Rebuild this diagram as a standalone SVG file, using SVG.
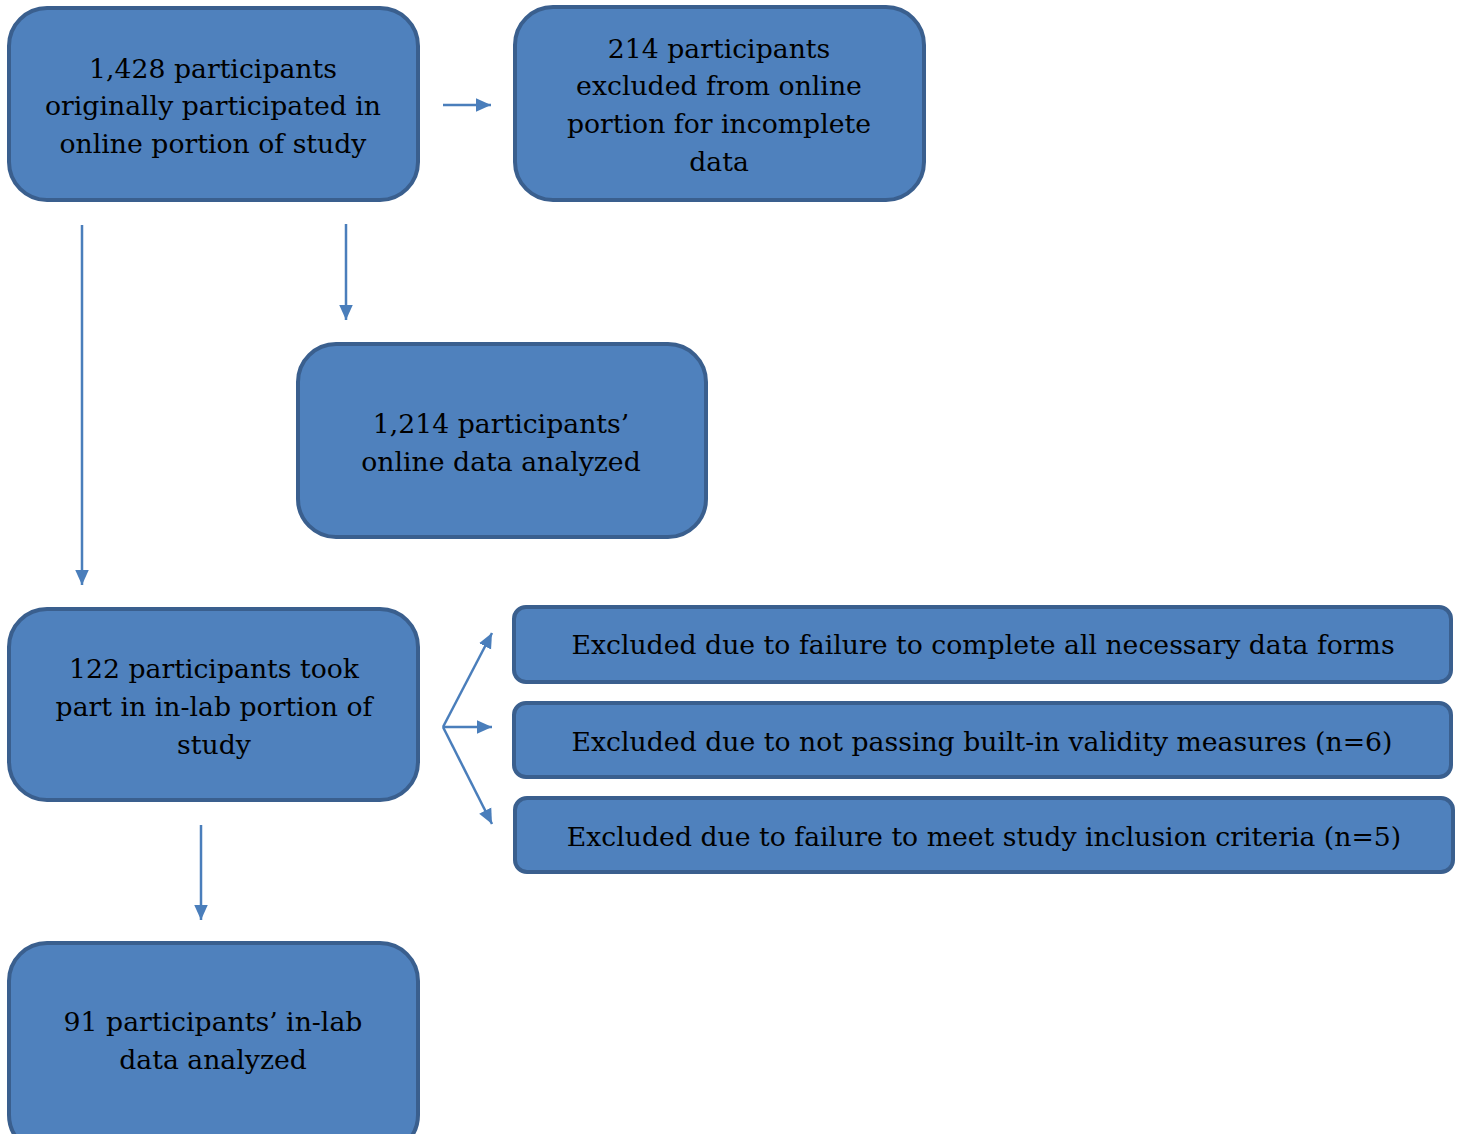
<svg xmlns="http://www.w3.org/2000/svg" width="1461" height="1134" viewBox="0 0 1461 1134">
<defs>
<style>
.box{fill:#4f81bd;stroke:#3a5f8e;stroke-width:4}
.t{font-family:"DejaVu Serif","Liberation Serif",serif;font-size:26.7px;fill:#000;text-anchor:middle}
.c{stroke:#4a7ebb;stroke-width:2.5;fill:none}
</style>
<marker id="ah" viewBox="0 0 10 10" refX="10" refY="5" markerWidth="15" markerHeight="15" markerUnits="userSpaceOnUse" orient="auto">
<path d="M0,0.5 L10,5 L0,9.5 z" fill="#4a7ebb"/>
</marker>
</defs>
<rect width="1461" height="1134" fill="#fff"/>
<g id="connectors">
<line class="c" x1="443" y1="105" x2="491" y2="105" marker-end="url(#ah)"/>
<line class="c" x1="82" y1="225" x2="82" y2="585" marker-end="url(#ah)"/>
<line class="c" x1="346" y1="224" x2="346" y2="320" marker-end="url(#ah)"/>
<line class="c" x1="201" y1="825" x2="201" y2="920" marker-end="url(#ah)"/>
<line class="c" x1="443" y1="727" x2="492" y2="633" marker-end="url(#ah)"/>
<line class="c" x1="443" y1="727" x2="492" y2="727" marker-end="url(#ah)"/>
<line class="c" x1="443" y1="727" x2="492" y2="824" marker-end="url(#ah)"/>
</g>
<g id="n1">
<rect class="box" x="9" y="8" width="409" height="192" rx="38"/>
<text class="t" x="213" y="78">1,428 participants</text>
<text class="t" x="213" y="115">originally participated in</text>
<text class="t" x="213" y="153">online portion of study</text>
</g>
<g id="n2">
<rect class="box" x="515" y="7" width="409" height="193" rx="38"/>
<text class="t" x="719" y="58">214 participants</text>
<text class="t" x="719" y="95">excluded from online</text>
<text class="t" x="719" y="133">portion for incomplete</text>
<text class="t" x="719" y="171">data</text>
</g>
<g id="n3">
<rect class="box" x="298" y="344" width="408" height="193" rx="38"/>
<text class="t" x="501" y="433">1,214 participants’</text>
<text class="t" x="501" y="471">online data analyzed</text>
</g>
<g id="n4">
<rect class="box" x="9" y="609" width="409" height="191" rx="38"/>
<text class="t" x="214" y="678">122 participants took</text>
<text class="t" x="214" y="716">part in in-lab portion of</text>
<text class="t" x="214" y="754">study</text>
</g>
<g id="n5">
<rect class="box" x="9" y="943" width="409" height="210" rx="38"/>
<text class="t" x="213" y="1031">91 participants’ in-lab</text>
<text class="t" x="213" y="1069">data analyzed</text>
</g>
<g id="e1">
<rect class="box" x="514" y="607" width="937" height="75" rx="12"/>
<text class="t" x="983" y="654">Excluded due to failure to complete all necessary data forms</text>
</g>
<g id="e2">
<rect class="box" x="514" y="703" width="937" height="74" rx="12"/>
<text class="t" x="982" y="751">Excluded due to not passing built-in validity measures (n=6)</text>
</g>
<g id="e3">
<rect class="box" x="515" y="798" width="938" height="74" rx="12"/>
<text class="t" x="984" y="846">Excluded due to failure to meet study inclusion criteria (n=5)</text>
</g>
</svg>
